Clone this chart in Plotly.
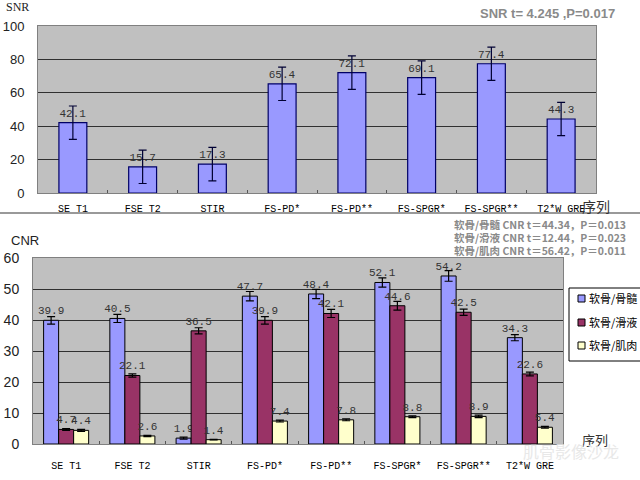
import plotly.graph_objects as go

categories = ["SE T1", "FSE T2", "STIR", "FS-PD*", "FS-PD**", "FS-SPGR*", "FS-SPGR**", "T2*W GRE"]

snr_values = [42.1, 15.7, 17.3, 65.4, 72.1, 69.1, 77.4, 44.3]
snr_errors = [10, 10, 10, 10, 10, 10, 10, 10]

cnr_names = ["软骨/骨髓", "软骨/滑液", "软骨/肌肉"]
cnr_marrow = [39.9, 40.5, 1.9, 47.7, 48.4, 52.1, 54.2, 34.3]
cnr_fluid = [4.7, 22.1, 36.5, 39.9, 42.1, 44.6, 42.5, 22.6]
cnr_muscle = [4.4, 2.6, 1.4, 7.4, 7.8, 8.8, 8.9, 5.4]
cnr_err_marrow = [1.2, 1.3, 0.3, 1.5, 1.5, 1.5, 1.7, 1.0]
cnr_err_fluid = [0.3, 0.5, 1.0, 1.2, 1.3, 1.4, 1.0, 0.6]
cnr_err_muscle = [0.3, 0.2, 0.1, 0.3, 0.3, 0.3, 0.4, 0.3]
cnr_colors = ["#9999ff", "#993366", "#ffffcc"]

snr_y_ticks = [0, 20, 40, 60, 80, 100]
cnr_y_ticks = [0, 10, 20, 30, 40, 50, 60]

W, H = 640, 480
def px(x): return x / W
def py(y): return 1 - y / H

mono = "Liberation Mono"
cjk = "Noto Sans CJK SC"

fig = go.Figure()

fig.add_trace(go.Bar(
    x=categories, y=snr_values, name="SNR", showlegend=False,
    marker=dict(color="#9999ff", line=dict(color="#000066", width=1.2)),
    error_y=dict(type="data", array=snr_errors, color="#000033", thickness=1.2, width=4),
    text=[f"{v}" for v in snr_values], textposition="outside", constraintext="none",
    cliponaxis=False,
    textfont=dict(family=mono, size=11, color="#333333"),
    width=0.4, xaxis="x", yaxis="y",
))

for name, vals, errs, col in zip(cnr_names, [cnr_marrow, cnr_fluid, cnr_muscle],
                                 [cnr_err_marrow, cnr_err_fluid, cnr_err_muscle], cnr_colors):
    fig.add_trace(go.Bar(
        x=categories, y=vals, name=name, showlegend=False,
        marker=dict(color=col, line=dict(color="#000000", width=1)),
        error_y=dict(type="data", array=errs, color="#000000", thickness=1.2, width=4),
        text=[f"{v}" for v in vals], textposition="outside", constraintext="none",
        cliponaxis=False,
        textfont=dict(family=mono, size=11, color="#333333"),
        xaxis="x2", yaxis="y2",
    ))

axis_common = dict(showline=True, linecolor="#808080", mirror=True, linewidth=1, automargin=False)

fig.update_layout(
    width=W, height=H,
    margin=dict(l=0, r=0, t=0, b=0, autoexpand=False),
    paper_bgcolor="white",
    plot_bgcolor="#c0c0c0",
    barmode="group", bargap=0.32, bargroupgap=0,
    font=dict(family="Liberation Sans", color="#000000"),
    xaxis=dict(domain=[px(38), px(596)], anchor="y", tickangle=0,
               tickfont=dict(family=mono, size=10, color="#000000"),
               ticks="inside", tickson="boundaries", ticklen=3, tickcolor="#555",
               ticklabelstandoff=6, **axis_common),
    yaxis=dict(domain=[py(193), py(26)], anchor="x", range=[0, 100],
               tickvals=snr_y_ticks, tickfont=dict(family="Liberation Sans", size=13, color="#222"),
               showgrid=True, gridcolor="#303030", gridwidth=1, zeroline=False,
               ticklabelstandoff=10, **axis_common),
    xaxis2=dict(domain=[px(33), px(563)], anchor="y2", tickangle=0,
                tickfont=dict(family=mono, size=10, color="#000000"),
                ticks="inside", tickson="boundaries", ticklen=3, tickcolor="#555",
                ticklabelstandoff=12, **axis_common),
    yaxis2=dict(domain=[py(444), py(258)], anchor="x2", range=[0, 60],
                tickvals=cnr_y_ticks, tickfont=dict(family="Liberation Sans", size=14, color="#222"),
                showgrid=True, gridcolor="#303030", gridwidth=1, zeroline=False,
                ticklabelstandoff=10, **axis_common),
    showlegend=False,
)

annotations = [
    dict(text="SNR", x=px(4), y=py(7), xanchor="left", yanchor="middle",
         font=dict(family="Liberation Serif", size=12, color="#222")),
    dict(text="SNR t= 4.245 ,P=0.017", x=px(617), y=py(13), xanchor="right", yanchor="middle",
         font=dict(family="Liberation Sans", size=13, color="#8a8a8a", weight="bold")),
    dict(text="序列", x=px(596), y=py(206), xanchor="center", yanchor="middle",
         font=dict(family=cjk, size=14, color="#333")),
    dict(text="CNR", x=px(9), y=py(240), xanchor="left", yanchor="middle",
         font=dict(family="Liberation Sans", size=13, color="#222")),
    dict(text="软骨/骨髓 CNR t＝44.34，P＝0.013", x=px(628), y=py(224), xanchor="right", yanchor="middle",
         font=dict(family=cjk, size=10.5, color="#8a8a8a", weight="bold")),
    dict(text="软骨/滑液 CNR t＝12.44，P＝0.023", x=px(628), y=py(237), xanchor="right", yanchor="middle",
         font=dict(family=cjk, size=10.5, color="#8a8a8a", weight="bold")),
    dict(text="软骨/肌肉 CNR t＝56.42，P＝0.011", x=px(628), y=py(250), xanchor="right", yanchor="middle",
         font=dict(family=cjk, size=10.5, color="#8a8a8a", weight="bold")),
    dict(text="序列", x=px(595), y=py(439), xanchor="center", yanchor="middle",
         font=dict(family=cjk, size=13, color="#333")),
    dict(text="肌骨影像沙龙", x=px(571), y=py(451), xanchor="center", yanchor="middle",
         font=dict(family=cjk, size=16, color="#e8e8e8")),
]

# custom legend (box runs off the right edge, as in the reference)
legend_left, legend_top, legend_bottom = 569, 288, 361
legend_rows = [298, 322, 345]
shapes = [
    dict(type="line", x0=0, x1=1, y0=py(213), y1=py(213),
         line=dict(color="#999999", width=2)),
    dict(type="rect", x0=px(legend_left), x1=px(645), y0=py(legend_bottom), y1=py(legend_top),
         fillcolor="white", line=dict(color="#000000", width=1)),
]
for name, col, ry in zip(cnr_names, cnr_colors, legend_rows):
    shapes.append(dict(type="rect", x0=px(578), x1=px(585), y0=py(ry + 4), y1=py(ry - 3),
                       fillcolor=col, line=dict(color="#000000", width=1)))
    annotations.append(dict(text=name, x=px(587), y=py(ry), xanchor="left", yanchor="middle",
                            font=dict(family=cjk, size=11, color="#000000")))

for a in annotations:
    a.update(xref="paper", yref="paper", showarrow=False)
for s in shapes:
    s.update(xref="paper", yref="paper")
fig.update_layout(annotations=annotations, shapes=shapes)

fig.write_html("out.html")
